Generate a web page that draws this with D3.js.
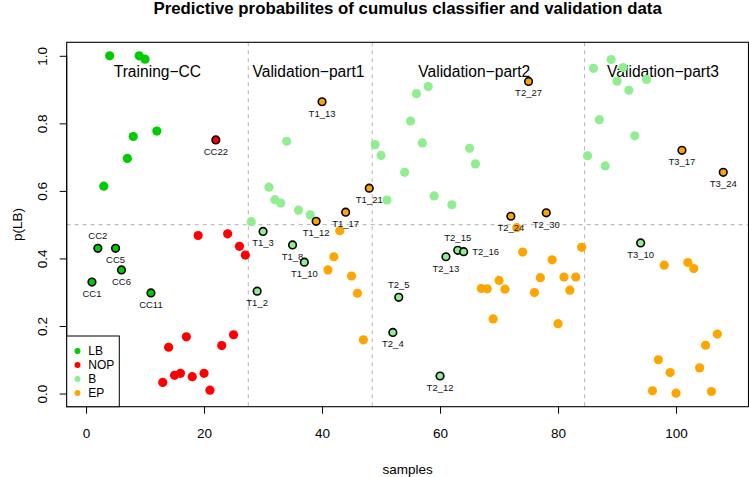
<!DOCTYPE html>
<html>
<head>
<meta charset="utf-8">
<script src="https://cdn.jsdelivr.net/npm/d3@7"></script>
<style>
  html, body { margin: 0; padding: 0; background: #fff; }
  svg { display: block; font-family: "Liberation Sans", Arial, Helvetica, sans-serif; }
</style>
</head>
<body>
<svg id="chart" width="749" height="477"></svg>
<script>
// ---------------- data ----------------
const title = "Predictive probabilites of cumulus classifier and validation data";
const xTicks = [0, 20, 40, 60, 80, 100];
const yTicks = [0, 0.2, 0.4, 0.6, 0.8, 1.0];
const legendKeys = ["LB", "NOP", "B", "EP"];
const groupNames = ["Training\u2212CC", "Validation\u2212part1", "Validation\u2212part2", "Validation\u2212part3"];
const groupBoundaries = [27.5, 48.5, 84.5];

// p(LB) for samples 1..108
const probTraining = [0.330, 0.430, 0.614, 1.000, 0.430, 0.366, 0.696, 0.761, 1.000, 0.990, 0.298, 0.777,
  0.033, 0.137, 0.054, 0.060, 0.168, 0.050, 0.468, 0.060, 0.010, 0.751, 0.142, 0.473, 0.174, 0.436, 0.410];
const probPart1 = [0.509, 0.303, 0.480, 0.611, 0.574, 0.564, 0.747, 0.440, 0.543, 0.389, 0.529,
  0.510, 0.864, 0.366, 0.405, 0.482, 0.537, 0.348, 0.297, 0.159, 0.608];
const probPart2 = [0.737, 0.705, 0.573, 0.181, 0.285, 0.655, 0.807, 0.888, 0.742, 0.909, 0.585, 0.052,
  0.405, 0.559, 0.424, 0.420, 0.726, 0.680,
  0.311, 0.310, 0.221, 0.335, 0.309, 0.525, 0.491, 0.419, 0.924, 0.299, 0.343, 0.535, 0.396, 0.207,
  0.345, 0.306, 0.345, 0.433];
const probPart3 = [0.704, 0.963, 0.811, 0.674, 0.989, 0.925, 0.965, 0.898, 0.763, 0.446, 0.930,
  0.008, 0.100, 0.380, 0.062, 0.001, 0.720, 0.388, 0.370, 0.076, 0.143, 0.006, 0.176, 0.655];

const classTraining = ["LB","LB","LB","LB","LB","LB","LB","LB","LB","LB","LB","LB",
  "NOP","NOP","NOP","NOP","NOP","NOP","NOP","NOP","NOP","NOP","NOP","NOP","NOP","NOP","NOP"];
const classPart1 = ["B","B","B","B","B","B","B","B","B","B","B",
  "EP","EP","EP","EP","EP","EP","EP","EP","EP","EP"];
const classPart2 = ["B","B","B","B","B","B","B","B","B","B","B","B","B","B","B","B","B","B",
  "EP","EP","EP","EP","EP","EP","EP","EP","EP","EP","EP","EP","EP","EP","EP","EP","EP","EP"];
const classPart3 = ["B","B","B","B","B","B","B","B","B","B","B",
  "EP","EP","EP","EP","EP","EP","EP","EP","EP","EP","EP","EP","EP"];

// highlighted (named) samples: sample index, name, label side
const namedSamples = [
  [1,"CC1","below"],[2,"CC2","above"],[5,"CC5","below"],[6,"CC6","below"],[11,"CC11","below"],[22,"CC22","below"],
  [29,"T1_2","below"],[30,"T1_3","below"],[35,"T1_8","below"],[37,"T1_10","below"],[39,"T1_12","below"],
  [40,"T1_13","below"],[44,"T1_17","below"],[48,"T1_21","below"],
  [52,"T2_4","below"],[53,"T2_5","above"],[60,"T2_12","below"],[61,"T2_13","below"],[63,"T2_15","above"],
  [64,"T2_16","right"],[72,"T2_24","below"],[75,"T2_27","below"],[78,"T2_30","below"],
  [94,"T3_10","below"],[101,"T3_17","below"],[108,"T3_24","below"]
];

// ---------------- build ----------------
const probs = [].concat(probTraining, probPart1, probPart2, probPart3);
const classes = [].concat(classTraining, classPart1, classPart2, classPart3);
const points = probs.map((p, i) => ({ sample: i + 1, p: p, cls: classes[i] }));
const namedSet = new Map(namedSamples.map(d => [d[0], d]));

const colors = { LB: "#00cd00", NOP: "#ff0000", B: "#90ee90", EP: "#ffa500" };
const groupLabelAt = [12.1, 37.7, 65.8, 97.8];

const W = 749, H = 477;
const plot = { left: 66.7, right: 748.5, top: 42.3, bottom: 406.7 };

const xExt = d3.extent(points, d => d.sample);
const xPad = (xExt[1] - xExt[0]) * 0.04;
const yExt = d3.extent(points, d => d.p);
const yPad = (yExt[1] - yExt[0]) * 0.04;

const x = d3.scaleLinear().domain([xExt[0] - xPad, xExt[1] + xPad]).range([plot.left, plot.right]);
const y = d3.scaleLinear().domain([yExt[0] - yPad, yExt[1] + yPad]).range([plot.bottom, plot.top]);

const svg = d3.select("#chart");

// reference lines
const refColor = "#b4b4b4";
svg.append("line")
  .attr("x1", plot.left).attr("x2", plot.right)
  .attr("y1", y(0.5)).attr("y2", y(0.5))
  .attr("stroke", refColor).attr("stroke-width", 1).attr("stroke-dasharray", "4,4");
svg.selectAll("line.vb").data(groupBoundaries).enter().append("line")
  .attr("class", "vb")
  .attr("x1", d => x(d)).attr("x2", d => x(d))
  .attr("y1", plot.top).attr("y2", plot.bottom)
  .attr("stroke", refColor).attr("stroke-width", 1).attr("stroke-dasharray", "4,4");

// group labels
svg.selectAll("text.grp").data(groupNames).enter().append("text")
  .attr("class", "grp")
  .attr("x", (d, i) => x(groupLabelAt[i]))
  .attr("y", y(0.95))
  .attr("dy", "0.25em")
  .attr("text-anchor", "middle")
  .attr("font-size", 15.6)
  .attr("fill", "#000")
  .text(d => d);

// points
const plain = points.filter(d => !namedSet.has(d.sample));
const named = points.filter(d => namedSet.has(d.sample));
svg.selectAll("circle.pt").data(plain).enter().append("circle")
  .attr("class", "pt")
  .attr("cx", d => x(d.sample)).attr("cy", d => y(d.p))
  .attr("r", 4.6)
  .attr("fill", d => colors[d.cls]);
svg.selectAll("circle.npt").data(named).enter().append("circle")
  .attr("class", "npt")
  .attr("cx", d => x(d.sample)).attr("cy", d => y(d.p))
  .attr("r", 3.8)
  .attr("fill", d => colors[d.cls])
  .attr("stroke", "#000").attr("stroke-width", 1.6);

// labels of named points
svg.selectAll("text.nl").data(named).enter().append("text")
  .attr("class", "nl")
  .attr("x", d => {
    const side = namedSet.get(d.sample)[2];
    return side === "right" ? x(d.sample) + 8.5 : x(d.sample);
  })
  .attr("y", d => {
    const side = namedSet.get(d.sample)[2];
    if (side === "below") return y(d.p) + 11.5;
    if (side === "above") return y(d.p) - 12.5;
    return y(d.p);
  })
  .attr("dominant-baseline", "central")
  .attr("text-anchor", d => namedSet.get(d.sample)[2] === "right" ? "start" : "middle")
  .attr("font-size", 9.5)
  .attr("fill", "#111")
  .text(d => namedSet.get(d.sample)[1]);

// axes
const xAxis = d3.axisBottom(x).tickValues(xTicks).tickSize(7).tickSizeOuter(0).tickPadding(15)
  .tickFormat(d3.format("d"));
const gx = svg.append("g").attr("transform", `translate(0,${plot.bottom})`).call(xAxis);
gx.select(".domain").remove();
gx.selectAll(".tick line").attr("stroke", "#000");
gx.selectAll(".tick text").attr("font-size", 13.5).attr("fill", "#000")
  .attr("font-family", "'Liberation Sans', Arial, sans-serif");

const yAxis = d3.axisLeft(y).tickValues(yTicks).tickSize(7).tickSizeOuter(0)
  .tickFormat(d3.format(".1f"));
const gy = svg.append("g").attr("transform", `translate(${plot.left},0)`).call(yAxis);
gy.select(".domain").remove();
gy.selectAll(".tick line").attr("stroke", "#000");
gy.selectAll(".tick text")
  .attr("transform", "rotate(-90)")
  .attr("x", 0).attr("y", -20.2).attr("dy", 0)
  .attr("text-anchor", "middle")
  .attr("font-size", 13.5).attr("fill", "#000")
  .attr("font-family", "'Liberation Sans', Arial, sans-serif");

// y axis line from first to last tick
svg.append("line")
  .attr("x1", plot.left).attr("x2", plot.left)
  .attr("y1", y(yTicks[0])).attr("y2", y(yTicks[yTicks.length - 1]))
  .attr("stroke", "#000");

// plot box
svg.append("rect")
  .attr("x", plot.left).attr("y", plot.top)
  .attr("width", plot.right - plot.left).attr("height", plot.bottom - plot.top)
  .attr("fill", "none").attr("stroke", "#000").attr("stroke-width", 1.1);

// legend
const lg = { left: plot.left, top: 336, right: 119.3, bottom: plot.bottom };
svg.append("rect")
  .attr("x", lg.left).attr("y", lg.top)
  .attr("width", lg.right - lg.left).attr("height", lg.bottom - lg.top)
  .attr("fill", "#fff").attr("stroke", "#000").attr("stroke-width", 1);
const li = svg.selectAll("g.li").data(legendKeys).enter().append("g")
  .attr("class", "li")
  .attr("transform", (d, i) => `translate(0,${351 + i * 14})`);
li.append("circle").attr("cx", 77.5).attr("cy", 0).attr("r", 3).attr("fill", d => colors[d]);
li.append("text").attr("x", 88.3).attr("y", 0).attr("dominant-baseline", "central")
  .attr("font-size", 12).attr("fill", "#000").text(d => d);

// titles
svg.append("text")
  .attr("x", (plot.left + plot.right) / 2).attr("y", 13.5)
  .attr("text-anchor", "middle").attr("font-weight", "bold").attr("font-size", 16.8)
  .attr("fill", "#000").text(title);
svg.append("text")
  .attr("x", (plot.left + plot.right) / 2).attr("y", 474)
  .attr("text-anchor", "middle").attr("font-size", 13.5).attr("fill", "#000").text("samples");
svg.append("text")
  .attr("transform", `translate(22,${(plot.top + plot.bottom) / 2}) rotate(-90)`)
  .attr("text-anchor", "middle").attr("font-size", 13.5).attr("fill", "#000").text("p(LB)");
</script>
</body>
</html>
